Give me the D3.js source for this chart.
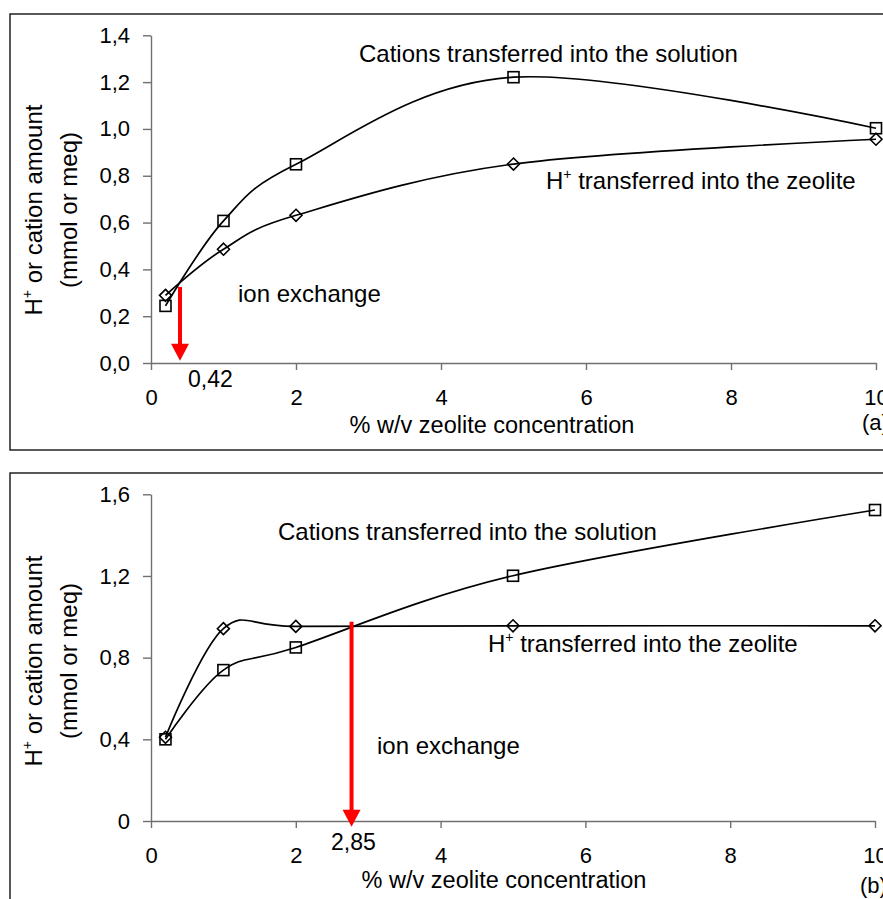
<!DOCTYPE html>
<html>
<head>
<meta charset="utf-8">
<script src="https://cdn.jsdelivr.net/npm/d3@7"></script>
<style>
    body { margin: 0; background: #fff; }
    text { font-family: "Liberation Sans", Arial, sans-serif; fill: #000; }
</style>
</head>
<body>
<script>
// % w/v zeolite concentration
const conc = [0.2, 1, 2, 5, 10];

// (a) values
const cationsA = [0.244, 0.607, 0.849, 1.221, 1.003];
const protonsA = [0.289, 0.486, 0.631, 0.850, 0.956];

// (b) values
const cationsB = [0.40, 0.739, 0.850, 1.201, 1.523];
const protonsB = [0.41, 0.942, 0.953, 0.956, 0.956];

const xTicks = [0, 2, 4, 6, 8, 10];
const yTicksA = [0, 0.2, 0.4, 0.6, 0.8, 1.0, 1.2, 1.4];
const yLabelsA = ["0,0", "0,2", "0,4", "0,6", "0,8", "1,0", "1,2", "1,4"];
const yTicksB = [0, 0.4, 0.8, 1.2, 1.6];
const yLabelsB = ["0", "0,4", "0,8", "1,2", "1,6"];

// red arrows: x position, start and end of the arrow (data units)
const arrowA = [0.40, 0.325, 0.01];
const arrowB = [2.77, 0.976, -0.028];

const svg = d3.select("body").append("svg")
    .attr("width", 883)
    .attr("height", 899);

// panel frames
svg.append("rect").attr("x", 10).attr("y", 14).attr("width", 900).attr("height", 436)
    .attr("fill", "none").attr("stroke", "#000").attr("stroke-width", 1.3);
svg.append("rect").attr("x", 10).attr("y", 473).attr("width", 900).attr("height", 460)
    .attr("fill", "none").attr("stroke", "#000").attr("stroke-width", 1.3);

function drawPanel(p) {
    let x = d3.scaleLinear().domain([0, 10]).range([151, p.xEnd]);
    let y = d3.scaleLinear().domain([0, p.yMax]).range([p.y0, p.yTop]);
    let g = svg.append("g");

    let ax = g.append("g")
        .attr("transform", "translate(0," + p.y0 + ")")
        .call(d3.axisBottom(x).tickValues(xTicks).tickSize(7).tickSizeOuter(0).tickPadding(19));
    let ay = g.append("g")
        .attr("transform", "translate(151,0)")
        .call(d3.axisLeft(y).tickValues(p.yTicks).tickFormat((d, i) => p.yLabels[i])
            .tickSize(8).tickSizeOuter(0).tickPadding(13));
    [ax, ay].forEach(a => {
        a.select(".domain").attr("stroke", "#707070").attr("stroke-width", 1.4);
        a.selectAll(".tick line").attr("stroke", "#707070").attr("stroke-width", 1.4);
        a.selectAll(".tick text").attr("font-size", "22px").attr("fill", "#000")
            .attr("font-family", '"Liberation Sans", Arial, sans-serif');
    });

    let line = d3.line()
        .x(d => x(d[0]))
        .y(d => y(d[1]))
        .curve(d3.curveCardinal.tension(0));

    let cat = conc.map((c, i) => [c, p.cations[i]]);
    let pro = conc.map((c, i) => [c, p.protons[i]]);

    g.append("path").attr("d", line(pro)).attr("fill", "none")
        .attr("stroke", "#000").attr("stroke-width", 1.7);
    g.append("path").attr("d", line(cat)).attr("fill", "none")
        .attr("stroke", "#000").attr("stroke-width", 1.7);

    g.selectAll(".sq").data(cat).enter().append("rect")
        .attr("x", d => x(d[0]) - 5.5)
        .attr("y", d => y(d[1]) - 5.5)
        .attr("width", 11).attr("height", 11)
        .attr("fill", "none").attr("stroke", "#000").attr("stroke-width", 1.6);

    g.selectAll(".dm").data(pro).enter().append("path")
        .attr("transform", d => "translate(" + x(d[0]) + "," + y(d[1]) + ")")
        .attr("d", "M0,-6L6,0L0,6L-6,0Z")
        .attr("fill", "none").attr("stroke", "#000").attr("stroke-width", 1.6);

    // red arrow
    let ar = p.arrow;
    let ax0 = x(ar[0]), ayStart = y(ar[1]), ayTip = y(ar[2]);
    g.append("line")
        .attr("x1", ax0).attr("x2", ax0)
        .attr("y1", ayStart).attr("y2", ayTip - 14)
        .attr("stroke", "#ff0000").attr("stroke-width", 4);
    g.append("path")
        .attr("d", "M" + (ax0 - 9) + "," + (ayTip - 17) + "L" + (ax0 + 9) + "," + (ayTip - 17) + "L" + ax0 + "," + ayTip + "Z")
        .attr("fill", "#ff0000");

    // y axis title
    let yt = g.append("g").attr("transform", "translate(42," + p.yMid + ") rotate(-90)");
    let t1 = yt.append("text").attr("text-anchor", "middle").attr("font-size", "24px");
    t1.append("tspan").text("H");
    t1.append("tspan").attr("font-size", "14px").attr("dy", -10).text("+");
    t1.append("tspan").attr("dy", 10).text(" or cation amount");
    yt.append("text").attr("y", 35).attr("text-anchor", "middle").attr("font-size", "24px")
        .text("(mmol or meq)");

    // x axis title
    g.append("text").attr("x", p.xTitle[0]).attr("y", p.xTitle[1])
        .attr("text-anchor", "middle").attr("font-size", "23.5px")
        .text("% w/v zeolite concentration");

    // annotations
    g.append("text").attr("x", p.catLabel[0]).attr("y", p.catLabel[1])
        .attr("font-size", "24px").text("Cations transferred into the solution");
    let hl = g.append("text").attr("x", p.proLabel[0]).attr("y", p.proLabel[1])
        .attr("font-size", "24px");
    hl.append("tspan").text("H");
    hl.append("tspan").attr("font-size", "14px").attr("dy", -10).text("+");
    hl.append("tspan").attr("dy", 10).text(" transferred into the zeolite");
    g.append("text").attr("x", p.ionLabel[0]).attr("y", p.ionLabel[1])
        .attr("font-size", "24px").text("ion exchange");
    g.append("text").attr("x", p.valLabel[0]).attr("y", p.valLabel[1])
        .attr("font-size", "23px").text(p.valText);
    g.append("text").attr("x", p.tag[0]).attr("y", p.tag[1])
        .attr("font-size", "22px").text(p.tagText);
}

drawPanel({
    xEnd: 876, yMax: 1.4, y0: 363, yTop: 35.3, yMid: 210,
    yTicks: yTicksA, yLabels: yLabelsA,
    cations: cationsA, protons: protonsA, arrow: arrowA,
    xTitle: [492, 433],
    catLabel: [359, 62], proLabel: [546, 189], ionLabel: [238, 302],
    valLabel: [188, 387], valText: "0,42",
    tag: [862, 430], tagText: "(a)"
});

drawPanel({
    xEnd: 875, yMax: 1.6, y0: 821, yTop: 494.3, yMid: 661,
    yTicks: yTicksB, yLabels: yLabelsB,
    cations: cationsB, protons: protonsB, arrow: arrowB,
    xTitle: [504, 888],
    catLabel: [278, 540], proLabel: [488, 652], ionLabel: [377, 754],
    valLabel: [331, 850], valText: "2,85",
    tag: [860, 893], tagText: "(b)"
});
</script>
</body>
</html>
